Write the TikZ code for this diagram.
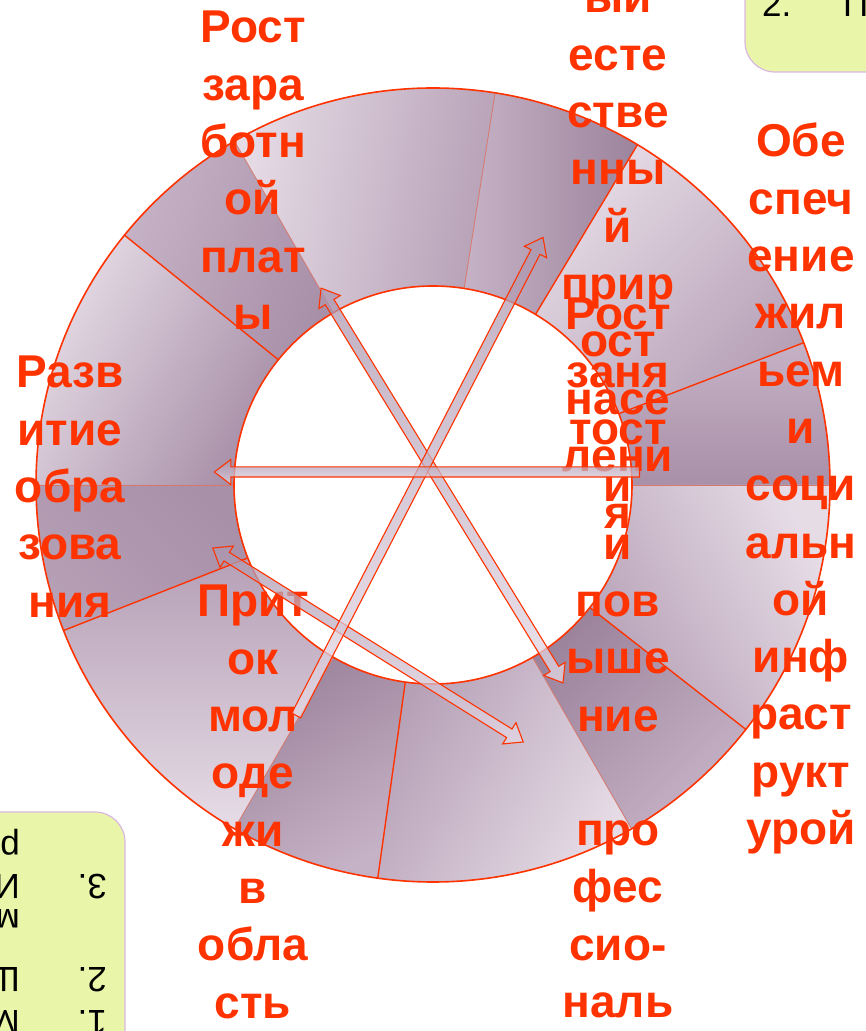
\documentclass[tikz,border=0pt]{standalone}
\usepackage{fontspec}
\setmainfont{Liberation Sans}
\usetikzlibrary{shapes.arrows}

\definecolor{lblred}{RGB}{255,51,0}
\definecolor{faintred}{RGB}{214,120,110}
\definecolor{notefill}{RGB}{233,246,170}
\definecolor{noteedge}{RGB}{218,184,226}
\definecolor{arrlight}{RGB}{228,216,228}
\definecolor{arrdark}{RGB}{172,150,174}
\definecolor{pale}{RGB}{230,220,230}
\definecolor{soft}{RGB}{198,178,198}
\definecolor{mid}{RGB}{182,160,182}
\definecolor{dusk}{RGB}{168,144,168}
\definecolor{deep}{RGB}{156,132,156}

% one piece of the ring: start angle, end angle, shading angle, light, dark
\newcommand{\ringpart}[5]{%
  \shade[top color=#4, bottom color=#5, shading angle=#3]
    ([shift={(#1:397pt)}]c) arc[start angle=#1, end angle=#2, radius=397pt]
    -- ([shift={(#2:199pt)}]c) arc[start angle=#2, end angle=#1, radius=199pt] -- cycle;}

\begin{document}
\begin{tikzpicture}[
    x=1pt, y=1pt,
    lbl/.style={text=lblred, font=\fontsize{46}{57.3}\selectfont\bfseries, text width=160pt, align=center, anchor=base, inner sep=0pt},
    rim/.style={draw=lblred, line width=1.6pt},
    cut/.style={lblred, line width=1.4pt},
    faintcut/.style={faintred, line width=0.8pt},
    blockarrow/.style={draw=lblred, line width=1.1pt, top color=arrdark, bottom color=arrlight, fill opacity=0.75, inner xsep=0pt, inner ysep=4.5pt, minimum width=0pt},
    onearrow/.style={blockarrow, single arrow, single arrow head extend=7.5pt, single arrow tip angle=75, anchor=tail},
    twoarrow/.style={blockarrow, double arrow, double arrow head extend=7.5pt, double arrow tip angle=75},
    notebox/.style={fill=notefill, draw=noteedge, line width=1.2pt, rounded corners=30pt},
    note/.style={font=\fontsize{35}{40}\selectfont, anchor=base west, inner sep=0pt}
]
\useasboundingbox (0,0) rectangle (866,1031);
\clip (0,0) rectangle (866,1031);

\coordinate (c) at (433,546);

% Ring
\ringpart{0}{21}{0}{soft}{dusk}
\ringpart{21}{59}{45}{pale}{mid}
\ringpart{59}{81}{90}{soft}{deep}
\ringpart{81}{120}{80}{pale}{mid}
\ringpart{120}{141}{70}{soft}{dusk}
\ringpart{141}{180}{60}{pale}{dusk}
\ringpart{180}{201.5}{135}{mid}{dusk}
\ringpart{201.5}{240}{180}{pale}{mid}
\ringpart{240}{262}{210}{soft}{deep}
\ringpart{262}{300}{240}{pale}{mid}
\ringpart{300}{322}{225}{soft}{deep}
\ringpart{322}{360}{-60}{pale}{mid}

\foreach \a in {0,81,120,180,240,300}
  \draw[faintcut] ([shift={(\a:199pt)}]c) -- ([shift={(\a:397pt)}]c);
\foreach \a in {21,59,141,201.5,262,322}
  \draw[cut] ([shift={(\a:199pt)}]c) -- ([shift={(\a:397pt)}]c);

\draw[rim] (c) circle[radius=397pt];
\draw[rim] (c) circle[radius=199pt];

% Labels
\node[lbl] (wages) at (253,988) {Рост\\зара\\ботн\\ой\\плат\\ы};
\node[lbl] (natgrowth) at (618,1018) {ый\\есте\\стве\\нны\\й\\прир\\ост\\насе\\лени\\я};
\node[lbl] (jobs) at (618,701) {Рост\\заня\\тост\\и\\и\\пов\\ыше\\ние\\[57.3pt]про\\фес\\сио-\\наль};
\node[lbl] (housing) at (801,874) {Обе\\спеч\\ение\\жил\\ьем\\и\\соци\\альн\\ой\\инф\\раст\\рукт\\урой};
\node[lbl] (schooling) at (70,643) {Разв\\итие\\обра\\зова\\ния};
\node[lbl] (youth) at (253,414) {Прит\\ок\\мол\\оде\\жи\\в\\обла\\сть};

% Arrows
\node[twoarrow, minimum height=463pt, rotate=-58.5] (diagA) at (442,545.5) {};
\node[twoarrow, minimum height=366pt, rotate=-32] (diagB) at (368,386) {};
\node[onearrow, minimum height=538pt, rotate=62.7] (diagC) at (296,315) {};
\node[onearrow, minimum height=425pt, rotate=180] (across) at (640,559) {};

% Notes
\draw[notebox] (745,959) rectangle (920,1100);
\node[note] (topnum) at (762,1014) {2.};
\node[note] (toptxt) at (843,1014) {П};

\draw[notebox] (-60,-80) rectangle (125,219);
\node[note, rotate=180] (num1) at (107,21) {1.};
\node[note, rotate=180] (txt1) at (20,21) {М};
\node[note, rotate=180] (num2) at (107,64) {2.};
\node[note, rotate=180] (txt2) at (20,64) {Ш};
\node[note, rotate=180] (txt2b) at (20,121) {м};
\node[note, rotate=180] (num3) at (107,156) {3.};
\node[note, rotate=180] (txt3) at (20,156) {И};
\node[note, rotate=180] (txt3b) at (20,194) {р};

\end{tikzpicture}
\end{document}
